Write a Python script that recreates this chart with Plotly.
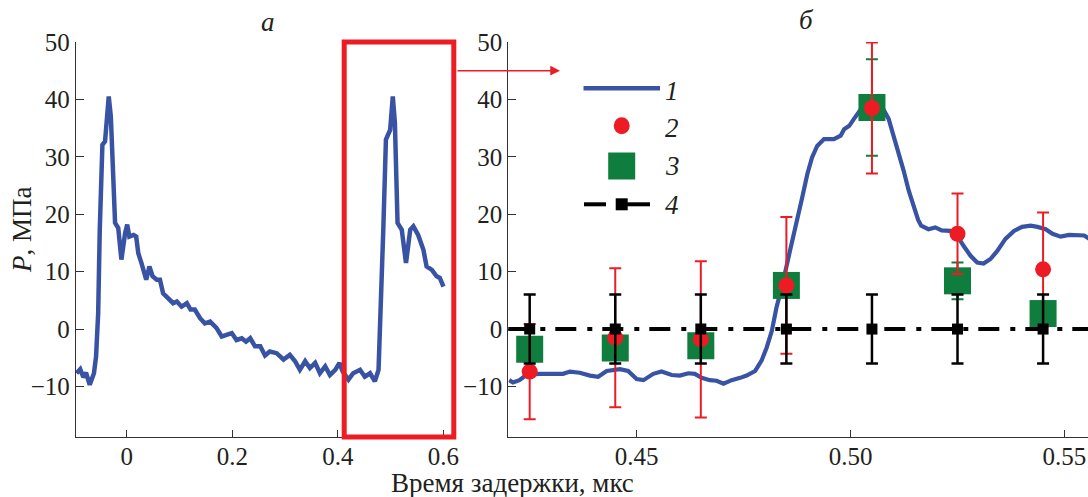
import plotly.graph_objects as go

# ---------------- data ----------------
# panel "а": full pressure record
time_a = [-0.095, -0.088, -0.082, -0.077, -0.070, -0.062, -0.058, -0.054, -0.051, -0.047,
          -0.046, -0.041, -0.038, -0.034, -0.030, -0.027, -0.022, -0.016, -0.010, -0.003,
          0.001, 0.005, 0.013, 0.018, 0.022, 0.028, 0.037, 0.043, 0.049, 0.057,
          0.063, 0.069, 0.079, 0.088, 0.095, 0.104, 0.114, 0.121, 0.129, 0.139,
          0.148, 0.158, 0.170, 0.180, 0.189, 0.199, 0.208, 0.218, 0.226, 0.234,
          0.243, 0.253, 0.262, 0.271, 0.284, 0.297, 0.309, 0.319, 0.328, 0.338,
          0.347, 0.357, 0.366, 0.376, 0.385, 0.395, 0.403, 0.409, 0.420, 0.429,
          0.442, 0.451, 0.461, 0.470, 0.477, 0.481, 0.486, 0.491, 0.499, 0.504,
          0.508, 0.513, 0.521, 0.529, 0.537, 0.543, 0.552, 0.562, 0.568, 0.578,
          0.587, 0.593, 0.600]
p_a = [-7.7, -7.0, -8.4, -7.6, -9.7, -7.7, -4.8, 2.8, 17.3, 28.3,
       32.1, 32.7, 36.5, 40.5, 37.0, 28.9, 18.5, 17.6, 12.1, 16.7,
       18.2, 16.1, 16.4, 16.1, 13.2, 11.5, 8.6, 10.9, 9.2, 8.6,
       8.6, 6.2, 5.4, 4.5, 4.8, 3.9, 4.5, 3.4, 3.4, 1.9,
       1.0, 1.3, 0.2, -1.3, -1.0, -0.7, -1.9, -1.6, -2.2, -1.6,
       -3.0, -3.0, -4.6, -3.9, -4.2, -5.3, -4.5, -5.6, -7.1, -5.6,
       -6.8, -5.9, -7.7, -6.5, -8.0, -7.1, -5.9, -7.4, -8.8, -7.7,
       -7.1, -8.3, -7.7, -9.1, -7.1, 2.7, 17.3, 33.0, 34.7, 40.5,
       35.9, 18.5, 17.3, 11.5, 17.3, 17.9, 16.4, 13.8, 10.9, 10.3,
       9.2, 8.9, 7.4]

# panel "б": zoomed record (series 1)
time_b = [0.4202, 0.4211, 0.4226, 0.4242, 0.4273, 0.4328, 0.4344, 0.4367, 0.4391, 0.4410,
          0.4430, 0.4461, 0.4480, 0.4500, 0.4516, 0.4539, 0.4558, 0.4582, 0.4601, 0.4621,
          0.4636, 0.4652, 0.4671, 0.4687, 0.4703, 0.4722, 0.4742, 0.4757, 0.4777, 0.4792,
          0.4804, 0.4816, 0.4827, 0.4840, 0.4858, 0.4876, 0.4887, 0.4899, 0.4910, 0.4922,
          0.4938, 0.4961, 0.4977, 0.4985, 0.4997, 0.5008, 0.5024, 0.5050, 0.5075, 0.5089,
          0.5101, 0.5113, 0.5124, 0.5136, 0.5148, 0.5158, 0.5165, 0.5182, 0.5198, 0.5213,
          0.5233, 0.5249, 0.5264, 0.5280, 0.5296, 0.5311, 0.5327, 0.5343, 0.5362, 0.5382,
          0.5401, 0.5421, 0.5437, 0.5456, 0.5472, 0.5491, 0.5511, 0.5530, 0.5546, 0.5558]
p_b = [-8.9, -9.3, -8.9, -8.0, -7.8, -7.8, -7.4, -7.6, -8.1, -8.3,
       -7.3, -7.0, -7.3, -8.7, -8.9, -7.8, -7.4, -8.0, -8.1, -7.7,
       -7.8, -8.5, -8.9, -9.0, -9.5, -8.9, -8.5, -8.1, -7.3, -5.5,
       -3.2, -0.3, 3.8, 7.5, 13.5, 18.9, 22.9, 27.0, 29.9, 31.9,
       33.1, 33.1, 33.7, 34.8, 35.4, 36.6, 38.3, 39.8, 38.5, 36.6,
       33.7, 30.5, 27.6, 24.1, 21.2, 19.0, 18.0, 17.4, 17.7, 17.2,
       17.1, 16.3, 14.5, 12.8, 11.6, 11.4, 12.2, 13.6, 15.7, 17.1,
       17.8, 18.0, 17.8, 17.4, 16.6, 16.1, 16.4, 16.4, 16.3, 15.7]

# discrete measurement times (series 2, 3, 4)
t_pts = [0.425, 0.445, 0.465, 0.485, 0.505, 0.525, 0.545]
p_red = [-7.4, -1.5, -1.8, 7.6, 38.5, 16.6, 10.4]
err_red = [8.3, 12.1, 13.6, 11.9, 11.4, 7.0, 9.9]
p_green = [-3.5, -3.3, -2.9, 7.6, 38.6, 8.4, 2.7]
err_green = [2.0, 2.0, 2.0, 2.0, 8.4, 3.2, 2.0]
p_black = [0, 0, 0, 0, 0, 0, 0]
err_black = [6, 6, 6, 6, 6, 6, 6]

y_ticks = [-10, 0, 10, 20, 30, 40, 50]
xa_ticks = [0, 0.2, 0.4, 0.6]
xb_ticks = [0.45, 0.50, 0.55]
legend_labels = ["1", "2", "3", "4"]

assert len(time_a) == len(p_a) and len(time_b) == len(p_b)

# ---------------- style ----------------
BLUE = "#3953a4"
RED = "#ed1c24"
GREEN = "#0f7d3d"
BLACK = "#000000"
AX = "#333333"
TXT = "#231f20"
FONT = "Liberation Serif, Times New Roman, serif"

W, H = 1088, 497
L, R, T, B = 76, 0, 42, 60


def px(x):
    return (x - L) / (W - L - R)


def py(y):
    return (H - B - y) / (H - T - B)


fig = go.Figure()

fig.add_trace(go.Scatter(x=time_a, y=p_a, mode="lines", xaxis="x", yaxis="y",
                         line=dict(color=BLUE, width=4.5), showlegend=False))
fig.add_trace(go.Scatter(x=time_b, y=p_b, mode="lines", xaxis="x2", yaxis="y2",
                         line=dict(color=BLUE, width=4.2), showlegend=False))
fig.add_trace(go.Scatter(x=t_pts, y=p_green, mode="markers", xaxis="x2", yaxis="y2",
                         marker=dict(symbol="square", size=27, color=GREEN),
                         error_y=dict(type="data", array=err_green, color=GREEN,
                                      thickness=2, width=6),
                         showlegend=False))
fig.add_trace(go.Scatter(x=t_pts, y=p_red, mode="markers", xaxis="x2", yaxis="y2",
                         marker=dict(symbol="circle", size=16, color=RED),
                         error_y=dict(type="data", array=err_red, color=RED,
                                      thickness=2, width=6),
                         showlegend=False))
fig.add_trace(go.Scatter(x=t_pts, y=p_black, mode="markers", xaxis="x2", yaxis="y2",
                         marker=dict(symbol="square", size=11, color=BLACK),
                         error_y=dict(type="data", array=err_black, color=BLACK,
                                      thickness=2.5, width=6),
                         showlegend=False))

axis_common = dict(showline=True, linecolor=AX, linewidth=1.3, ticks="inside",
                   tickcolor=AX, tickwidth=1.3, showgrid=False, zeroline=False,
                   tickfont=dict(family=FONT, size=25, color=TXT), automargin=False)

fig.update_layout(
    width=W, height=H,
    margin=dict(l=L, r=R, t=T, b=B),
    font=dict(family=FONT, size=24, color=TXT),
    plot_bgcolor="white", paper_bgcolor="white",
    showlegend=False,
    xaxis=dict(domain=[0, px(453.3)], range=[-0.096, 0.6186], anchor="y",
               tickvals=xa_ticks, ticktext=["0", "0.2", "0.4", "0.6"], ticklen=7,
               ticklabelstandoff=-3, **axis_common),
    yaxis=dict(domain=[0, 1], range=[-18.8, 50], anchor="x", tickvals=y_ticks,
               ticklen=8, **axis_common),
    xaxis2=dict(domain=[px(508.3), 1], range=[0.42, 0.5555], anchor="y2",
                tickvals=xb_ticks, ticktext=["0.45", "0.50", "0.55"], ticklen=7,
                ticklabelstandoff=-3, **axis_common),
    yaxis2=dict(domain=[0, 1], range=[-18.8, 50], anchor="x2", tickvals=y_ticks,
                ticklen=8, **axis_common),
)

shapes = []
# dash-dot zero level (series 4 line)
shapes.append(dict(type="line", xref="x2 domain", yref="y2", x0=0, x1=1, y0=0, y1=0,
                   line=dict(color=BLACK, width=4, dash="21px,11px,5px,10px"),
                   layer="above"))
# red frame on panel a
shapes.append(dict(type="rect", xref="paper", yref="paper",
                   x0=px(344.2), x1=px(453.8), y0=py(437), y1=py(42),
                   line=dict(color=RED, width=5), fillcolor="rgba(0,0,0,0)"))
# legend glyphs
shapes.append(dict(type="line", xref="paper", yref="paper", x0=px(583.5), x1=px(660),
                   y0=py(88.3), y1=py(88.3), line=dict(color=BLUE, width=4.5)))
shapes.append(dict(type="circle", xref="paper", yref="paper", xsizemode="pixel",
                   ysizemode="pixel", xanchor=px(621.7), yanchor=py(125.7),
                   x0=-8, x1=8, y0=-8.5, y1=8.5, fillcolor=RED, line=dict(width=0)))
shapes.append(dict(type="rect", xref="paper", yref="paper", xsizemode="pixel",
                   ysizemode="pixel", xanchor=px(621.7), yanchor=py(166),
                   x0=-13.5, x1=13.5, y0=-13.5, y1=13.5, fillcolor=GREEN,
                   line=dict(width=0)))
shapes.append(dict(type="line", xref="paper", yref="paper", x0=px(584), x1=px(606),
                   y0=py(204.3), y1=py(204.3), line=dict(color=BLACK, width=4)))
shapes.append(dict(type="line", xref="paper", yref="paper", x0=px(626), x1=px(650),
                   y0=py(204.3), y1=py(204.3), line=dict(color=BLACK, width=4)))
shapes.append(dict(type="rect", xref="paper", yref="paper", xsizemode="pixel",
                   ysizemode="pixel", xanchor=px(621.7), yanchor=py(204.3),
                   x0=-6, x1=6, y0=-6, y1=6, fillcolor=BLACK, line=dict(width=0)))
fig.update_layout(shapes=shapes)

ann = []
for lab, yy in zip(legend_labels, [91, 128.5, 166, 204.5]):
    ann.append(dict(xref="paper", yref="paper", x=px(672), y=py(yy), text="<i>%s</i>" % lab,
                    showarrow=False, xanchor="center", yanchor="middle",
                    font=dict(family=FONT, size=27, color=TXT)))
ann.append(dict(xref="paper", yref="paper", x=px(268), y=py(22), text="<i>а</i>",
                showarrow=False, xanchor="center", yanchor="middle",
                font=dict(family=FONT, size=27, color=TXT)))
ann.append(dict(xref="paper", yref="paper", x=px(806), y=py(20), text="<i>б</i>",
                showarrow=False, xanchor="center", yanchor="middle",
                font=dict(family=FONT, size=27, color=TXT)))
ann.append(dict(xref="paper", yref="paper", x=px(512), y=py(483),
                text="Время задержки, мкс", showarrow=False, xanchor="center",
                yanchor="middle", font=dict(family=FONT, size=27, color=TXT)))
ann.append(dict(xref="paper", yref="paper", x=px(22), y=py(230),
                text="<i>P</i>, МПа", showarrow=False, textangle=-90,
                xanchor="center", yanchor="middle",
                font=dict(family=FONT, size=27, color=TXT)))
# arrow from frame to panel б
ann.append(dict(xref="paper", yref="paper", x=px(560), y=py(70.7), ax=-104, ay=0,
                text="", showarrow=True, arrowhead=2, arrowsize=1.3, arrowwidth=1.5,
                arrowcolor=RED))
fig.update_layout(annotations=ann)

fig.write_html("out.html", config={"displayModeBar": False},
               post_script="document.body.style.margin='0';document.body.style.padding='0';")
